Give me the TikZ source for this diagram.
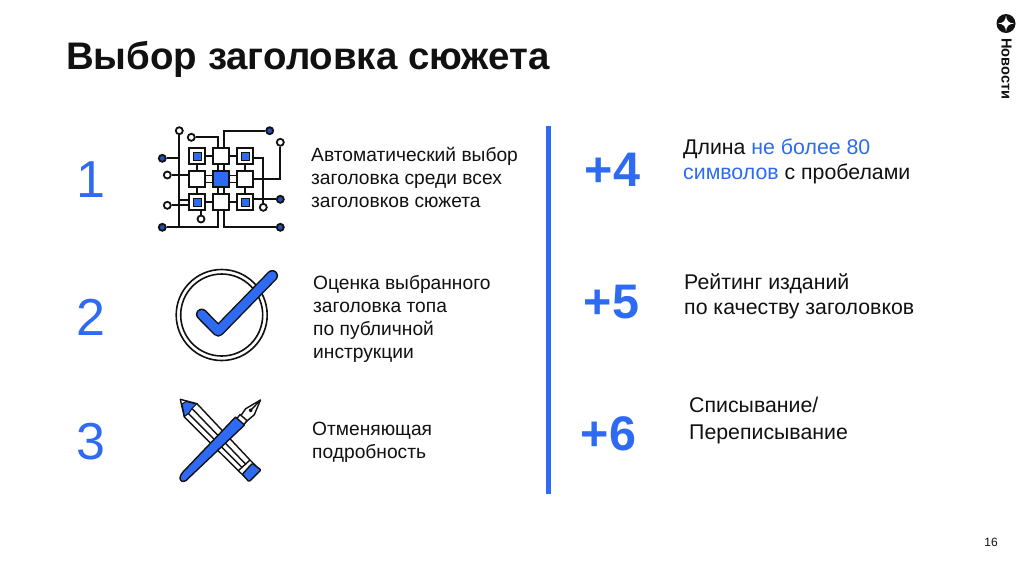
\documentclass[tikz,border=0pt]{standalone}
\usepackage{fontspec}
\setmainfont{Liberation Sans}
\usetikzlibrary{backgrounds}
\definecolor{newsblue}{HTML}{2F6BF2}
\definecolor{ink}{HTML}{111111}
\tikzset{>=stealth,
    headline/.style={anchor=base west, inner sep=0, font=\fontsize{38.4}{44}\bfseries\selectfont, text=ink},
    bignum/.style={anchor=base, inner sep=0, font=\fontsize{52}{56}\selectfont, text=newsblue},
    plusnum/.style={anchor=base, inner sep=0, font=\fontsize{48.5}{54}\bfseries\selectfont, text=newsblue},
    bodytext/.style={anchor=north west, inner sep=0, align=left, font=\fontsize{19.2}{23.2}\selectfont, text=ink},
    sidetext/.style={bodytext, font=\fontsize{21.3}{25}\selectfont},
    chip/.style={draw=ink, line width=2pt, fill=white, minimum size=15.5pt, inner sep=0},
    corechip/.style={chip, fill=newsblue},
    dotchip/.style={draw=ink, line width=1pt, fill=newsblue, minimum size=8pt, inner sep=0},
    pinopen/.style={circle, draw=ink, line width=1.8pt, fill=white, minimum size=7pt, inner sep=0},
    pinfull/.style={pinopen, fill=newsblue!75!black},
    wire/.style={draw=ink, line width=1.9pt},
    sketch/.style={draw=ink, line width=1.4pt, line join=round}
}
\begin{document}
\begin{tikzpicture}[x=1pt,y=-1pt]
    \useasboundingbox (0,0) rectangle (1024,574);
    % header
    \node[headline] (title) at (66,69) {Выбор заголовка сюжета};
    \fill[ink] (1006,23.5) circle (9.5);
    \fill[white] (1006,15.5) .. controls (1006.5,21) and (1008.5,23) .. (1014,23.5)
        .. controls (1008.5,24) and (1006.5,26) .. (1006,31.5)
        .. controls (1005.5,26) and (1003.5,24) .. (998,23.5)
        .. controls (1003.5,23) and (1005.5,21) .. (1006,15.5) -- cycle;
    \node[rotate=-90, anchor=west, inner sep=0, font=\fontsize{14.6}{16}\bfseries\selectfont, text=ink] (brand) at (1006.5,38) {Новости};
    % numbers on the left
    \node[bignum] (n1) at (91,197) {1};
    \node[bignum] (n2) at (91,335) {2};
    \node[bignum] (n3) at (91,459) {3};
    % texts
    \node[bodytext] (t1) at (311,147) {Автоматический выбор\\заголовка среди всех\\заголовков сюжета};
    \node[bodytext] (t2) at (313,275) {Оценка выбранного\\заголовка топа\\по публичной\\инструкции};
    \node[bodytext] (t3) at (312,422) {Отменяющая\\подробность};
    % divider
    \fill[newsblue] (546,126) rectangle (550.5,494);
    % right side
    \node[plusnum] (p4) at (612.5,186.5) {+4};
    \node[plusnum] (p5) at (611.5,318.5) {+5};
    \node[plusnum] (p6) at (608.5,450.5) {+6};
    \node[sidetext] (r1) at (683,139) {Длина \textcolor{newsblue}{не более 80}\\\textcolor{newsblue}{символов} с пробелами};
    \node[sidetext] (r2) at (684,273) {Рейтинг изданий\\по качеству заголовков};
    \node[sidetext, font=\fontsize{21.3}{27}\selectfont] (r3) at (689,397) {Списывание/\\Переписывание};
    \node[anchor=base, inner sep=0, font=\fontsize{12}{14}\selectfont, text=ink] (page) at (991,546) {16};
    % chip icon
    \foreach \name/\cx/\cy in {chipt/221/156, chipl/197/179, chipr/245/179, chipb/221/202,
                               chiptl/197/156, chiptr/245/156, chipbl/197/202, chipbr/245/202}
        \node[chip] (\name) at (\cx,\cy) {};
    \node[corechip] (chipc) at (221,179) {};
    \foreach \cx/\cy in {197/156, 245/156, 197/202, 245/202}
        \node[dotchip] at (\cx,\cy) {};
    \node[pinopen] (a1) at (179.3,130.7) {};
    \node[pinfull] (a2) at (162.3,158.3) {};
    \node[pinopen] (a3) at (167.3,175) {};
    \node[pinopen] (a4) at (167.3,205.3) {};
    \node[pinfull] (a5) at (162.3,227.3) {};
    \node[pinopen] (a6) at (201,219) {};
    \node[pinopen] (a7) at (191.3,137.3) {};
    \node[pinfull] (a8) at (269.7,130.7) {};
    \node[pinopen] (a9) at (280.3,142.3) {};
    \node[pinfull] (a10) at (280.3,199.3) {};
    \node[pinopen] (a11) at (263.3,207.3) {};
    \node[pinfull] (a12) at (280.3,227.3) {};
    \begin{scope}[on background layer]
    \fill[white] (0,0) rectangle (1024,574);
    \draw[wire] (a1) -- (179.3,227.3);
    \draw[wire] (a2) -- (179.3,158.3);
    \draw[wire] (a3) -- (chipl.west |- a3);
    \draw[wire] (a4) -- (chipbl.west |- a4);
    \draw[wire] (179.3,200) -- (chipbl.west |- 0,200);
    \draw[wire] (a5) -| (218.3,210);
    \draw[wire] (a12) -| (224,210);
    \draw[wire] (a6) -- (chipbl.south -| a6);
    \draw[wire] (a7) -| (218.3,148);
    \draw[wire] (a8) -| (224,148);
    \draw[wire] (a9) |- (chipr.east);
    \draw[wire] (a10) -- (chipbr.east |- a10);
    \draw[wire] (a11) |- (chiptr.east |- 0,158.3);
    \draw[wire] (chiptl) -- (chipt);
    \draw[wire] (chipt) -- (chiptr);
    \draw[wire] (chipbl) -- (chipb);
    \draw[wire] (chipb) -- (chipbr);
    \draw[wire] (chiptl) -- (chipl);
    \draw[wire] (chipl) -- (chipbl);
    \draw[wire] (chiptr) -- (chipr);
    \draw[wire] (chipr) -- (chipbr);
    \foreach \cx in {218,224} {
        \draw[wire] (\cx,160) -- (\cx,175);
        \draw[wire] (\cx,185) -- (\cx,198);
    }
    \foreach \cy in {175.5,182.5} {
        \draw[wire] (201,\cy) -- (217,\cy);
        \draw[wire] (225,\cy) -- (241,\cy);
    }
    \end{scope}
    % check icon
    \draw[ink, line width=1.6pt] (221.7,315) circle (45.5);
    \draw[ink, line width=1.6pt] (221.7,315) circle (41);
    \draw[ink, line width=11.5pt, line cap=round, line join=round] (201.7,314.3) -- (218.3,331) -- (272.3,275.7);
    \draw[newsblue, line width=8.6pt, line cap=round, line join=round] (201.7,314.3) -- (218.3,331) -- (272.3,275.7);
    % pencil
    \draw[sketch, fill=white] (180.3,399.3) -- (197,403.7) -- (250,460) -- (256,466) -- (245,477) -- (238.3,470.7) -- (184.3,417) -- cycle;
    \draw[sketch] (192,408.5) -- (246,464.5);
    \draw[sketch] (188,413) -- (242,467.5);
    \draw[sketch] (238.3,470.7) -- (250,460);
    \draw[sketch, fill=newsblue, rounded corners=1pt] (242.3,474.3) -- (252.3,463.3) -- (261,470) -- (249,481.7) -- cycle;
    \draw[draw=ink, line width=1pt, fill=newsblue] (182,404) -- (186,401.5) -- (196.5,404) -- (192,408.5) -- (189,413) -- (184.5,416.5) -- cycle;
    % pen
    \draw[sketch, fill=white] (241,415.3) -- (245.7,408.7) -- (260.5,400) -- (254.3,414.7) -- (245,422.7) -- cycle;
    \draw[sketch] (260.5,400) -- (250.7,410.3);
    \draw[sketch, fill=white] (250.7,410.3) circle (1.3);
    \draw[sketch, fill=white] (240,414.5) -- (247,420.5) -- (243.5,425) -- (236.7,419) -- cycle;
    \draw[sketch, fill=newsblue] (235.5,417) -- (244.5,425) -- (186,480.5) .. controls (183,482.5) and (180,481) .. (180,478)
        .. controls (180,476) and (181,474.5) .. (183,472) -- cycle;
\end{tikzpicture}
\end{document}
